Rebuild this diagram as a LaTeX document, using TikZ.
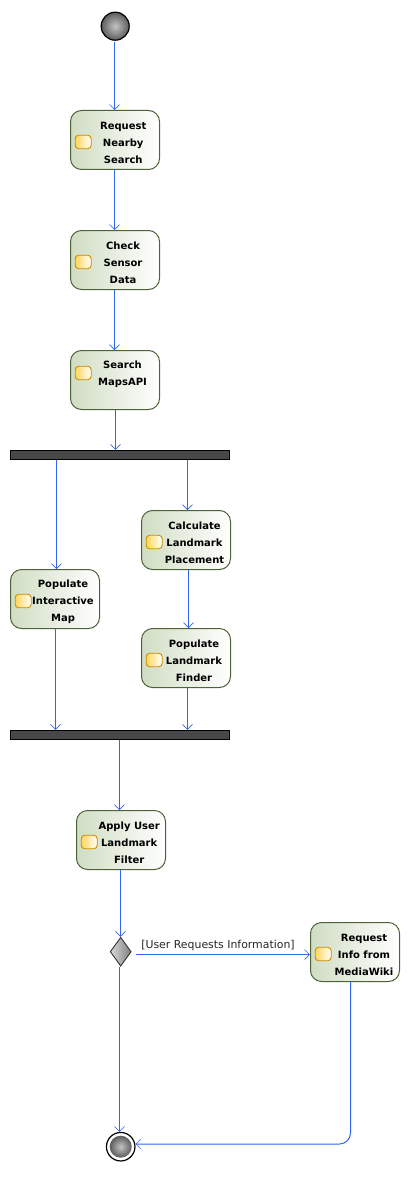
\documentclass[tikz,border=0pt]{standalone}
\usepackage{fontspec}
\setmainfont{DejaVu Sans}
\usetikzlibrary{shapes.geometric,arrows.meta}
\definecolor{flowblue}{RGB}{51,102,240}
\definecolor{actgreen}{RGB}{208,221,195}
\definecolor{actline}{RGB}{78,98,56}
\definecolor{iconline}{RGB}{204,140,0}
\definecolor{iconfill}{RGB}{255,214,90}
\definecolor{barfill}{RGB}{72,72,72}
\definecolor{ballin}{RGB}{196,196,196}
\definecolor{ballout}{RGB}{92,92,92}
\tikzset{
    flow/.style={draw=flowblue, line width=1pt, -{Straight Barb[length=5pt,width=10pt,line width=.6pt]}},
    activity/.style={draw=actline, line width=1pt, rounded corners=11pt, minimum width=89pt, minimum height=59pt, left color=actgreen, right color=white, inner sep=0pt},
    acttext/.style={font=\bfseries\fontsize{10}{17}\selectfont, align=center, inner sep=0pt, text=black},
    icon/.style={draw=iconline, line width=.9pt, rounded corners=3.5pt, minimum width=16pt, minimum height=13.5pt, inner sep=0pt, left color=iconfill, right color=white},
    syncbar/.style={draw=black, line width=1pt, fill=barfill, minimum width=219pt, minimum height=9pt, inner sep=0pt},
    ball/.style={circle, minimum size=22pt, inner sep=0pt, inner color=ballin, outer color=ballout},
    guard/.style={font=\fontsize{10.9}{12}\selectfont, inner sep=0pt, text=black!85},
}
\begin{document}
\begin{tikzpicture}[x=1pt,y=-1pt]
    \useasboundingbox (0,0) rectangle (410,1177);

    % start and end
    \node[ball, draw=black, line width=1.2pt, minimum size=28pt] (start) at (115.2,26.2) {};
    \node[circle, draw=black, line width=1.2pt, minimum size=28.5pt, inner sep=0pt] (endring) at (120.7,1146.7) {};
    \node[ball] (endball) at (120.7,1146.7) {};

    % activities
    \node[activity] (request) at (115,140) {};
    \node[icon] (requesticon) at (83.2,142) {};
    \node[acttext] (requesttext) at (123.2,142.5) {Request\\Nearby\\Search};

    \node[activity] (sensor) at (115,260) {};
    \node[icon] (sensoricon) at (83.2,262) {};
    \node[acttext] (sensortext) at (123,262.5) {Check\\Sensor\\Data};

    \node[activity] (maps) at (115,380) {};
    \node[icon] (mapsicon) at (83.2,373) {};
    \node[acttext] (mapstext) at (122.5,374.5) {Search\\MapsAPI};

    \node[syncbar] (forkbar) at (120,454.8) {};

    \node[activity] (calc) at (186,540) {};
    \node[icon] (calcicon) at (154.2,542) {};
    \node[acttext] (calctext) at (194.5,542.5) {Calculate\\Landmark\\Placement};

    \node[activity] (interactive) at (55,599) {};
    \node[icon] (interactiveicon) at (23.2,601) {};
    \node[acttext] (interactivetext) at (63,601.5) {Populate\\Interactive\\Map};

    \node[activity] (finder) at (186,658) {};
    \node[icon] (findericon) at (154.2,660) {};
    \node[acttext] (findertext) at (194,660.5) {Populate\\Landmark\\Finder};

    \node[syncbar] (joinbar) at (120,734.8) {};

    \node[activity] (filter) at (121,840) {};
    \node[icon] (filtericon) at (89.2,842) {};
    \node[acttext] (filtertext) at (129.2,842.5) {Apply User\\Landmark\\Filter};

    \node[diamond, draw=black!80, line width=.9pt, minimum width=21pt, minimum height=29pt, inner sep=0pt, left color=black!15, right color=black!50] (branch) at (120.7,951.7) {};

    \node[activity] (wiki) at (355,952) {};
    \node[icon] (wikiicon) at (323.2,954) {};
    \node[acttext] (wikitext) at (364,954.5) {Request\\Info from\\MediaWiki};

    \node[guard] (guardtext) at (218,945) {[User Requests Information]};

    % connectors
    \draw[flow, shorten <=1pt] (114.5,0 |- start.south) -- (114.5,0 |- request.north);
    \draw[flow] (114.5,0 |- request.south) -- (114.5,0 |- sensor.north);
    \draw[flow] (114.5,0 |- sensor.south) -- (114.5,0 |- maps.north);
    \draw[flow] (115.5,0 |- maps.south) -- (115.5,0 |- forkbar.north);
    \draw[flow] (56.5,0 |- forkbar.south) -- (56.5,0 |- interactive.north);
    \draw[flow] (187.5,0 |- forkbar.south) -- (187.5,0 |- calc.north);
    \draw[flow] (188.5,0 |- calc.south) -- (188.5,0 |- finder.north);
    \draw[flow] (55.5,0 |- interactive.south) -- (55.5,0 |- joinbar.north);
    \draw[flow] (187.5,0 |- finder.south) -- (187.5,0 |- joinbar.north);
    \draw[flow] (119.5,0 |- joinbar.south) -- (119.5,0 |- filter.north);
    \draw[flow] (120.5,0 |- filter.south) -- (120.5,0 |- branch.north);
    \draw[flow] (119.5,0 |- branch.south) -- (119.5,0 |- endring.north);
    \draw[flow, shorten <=4pt] (branch.east |- 0,954.5) -- (wiki.west |- 0,954.5);
    \draw[flow, rounded corners=11pt] (350.5,0 |- wiki.south) |- (endring.east |- 0,1144);

\end{tikzpicture}
\end{document}
